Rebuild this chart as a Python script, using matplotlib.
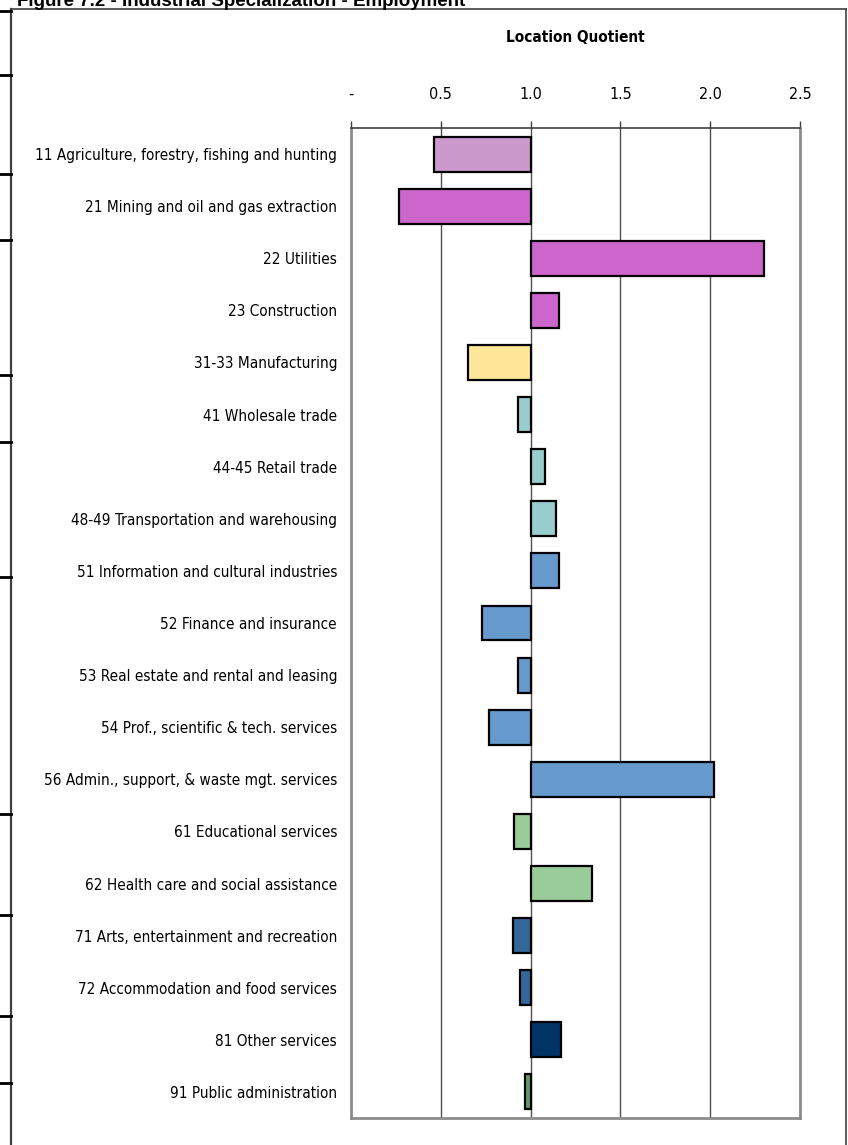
import matplotlib.pyplot as plt
from matplotlib.lines import Line2D

industries = [
    "11 Agriculture, forestry, fishing and hunting",
    "21 Mining and oil and gas extraction",
    "22 Utilities",
    "23 Construction",
    "31-33 Manufacturing",
    "41 Wholesale trade",
    "44-45 Retail trade",
    "48-49 Transportation and warehousing",
    "51 Information and cultural industries",
    "52 Finance and insurance",
    "53 Real estate and rental and leasing",
    "54 Prof., scientific & tech. services",
    "56 Admin., support, & waste mgt. services",
    "61 Educational services",
    "62 Health care and social assistance",
    "71 Arts, entertainment and recreation",
    "72 Accommodation and food services",
    "81 Other services",
    "91 Public administration",
]
location_quotient = [0.46, 0.27, 2.30, 1.16, 0.65, 0.93, 1.08, 1.14, 1.16, 0.73,
                     0.93, 0.77, 2.02, 0.91, 1.34, 0.90, 0.94, 1.17, 0.97]
bar_colors = ["#CC99CC", "#CC66CC", "#CC66CC", "#CC66CC", "#FFE699",
              "#99CCCC", "#99CCCC", "#99CCCC",
              "#6699CC", "#6699CC", "#6699CC", "#6699CC", "#6699CC",
              "#99CC99", "#99CC99", "#336699", "#336699", "#003366", "#669966"]
x_ticks = [0, 0.5, 1.0, 1.5, 2.0, 2.5]
x_tick_labels = ["-", "0.5", "1.0", "1.5", "2.0", "2.5"]
baseline = 1.0

narrow = dict(family="DejaVu Sans", stretch="condensed")
bold = ["Liberation Sans", "DejaVu Sans"]

W, H = 848, 1145
fig = plt.figure(figsize=(W / 100, H / 100), dpi=100)

def fx(px):
    return px / W

def fy(py):
    return 1 - py / H

# page frame and left margin marks
fig.add_artist(Line2D([fx(11), fx(11)], [fy(9), 0], color="#404040", lw=1.6))
fig.add_artist(Line2D([fx(11), fx(846)], [fy(9), fy(9)], color="#404040", lw=1.2))
fig.add_artist(Line2D([fx(846), fx(846)], [fy(9), 0], color="#404040", lw=1.2))
for py in [11, 75, 174, 240, 375, 442, 577, 814, 915, 1016, 1083]:
    fig.add_artist(Line2D([0, fx(11)], [fy(py), fy(py)], color="black", lw=2))

fig.text(fx(17), fy(2), "Figure 7.2 - Industrial Specialization - Employment",
         fontsize=13.5, fontweight="bold", family=bold, ha="left", va="center")

ax = fig.add_axes([351 / W, 1 - 1118 / H, (800 - 351) / W, (1118 - 128) / H])

y_pos = list(range(len(industries)))
widths = [v - baseline for v in location_quotient]
ax.barh(y_pos, widths, left=baseline, height=0.67, color=bar_colors,
        edgecolor="black", linewidth=1.6, zorder=3)

ax.set_xlim(0, 2.5)
ax.set_ylim(len(industries) - 0.5, -0.5)
ax.set_yticks(y_pos)
ax.set_yticklabels(industries, fontsize=11, **narrow)
ax.tick_params(axis="y", length=0, pad=10)

ax.xaxis.tick_top()
ax.set_xticks(x_ticks)
ax.set_xticklabels(x_tick_labels, fontsize=11.5, **narrow)
ax.tick_params(axis="x", direction="out", length=5, width=1, color="#404040", pad=14)

for v in x_ticks[1:-1]:
    ax.axvline(v, color="#505050", lw=1, zorder=1)

for side in ["left", "right", "bottom"]:
    ax.spines[side].set_color("#8C8C8C")
    ax.spines[side].set_linewidth(2)
ax.spines["top"].set_color("#404040")
ax.spines["top"].set_linewidth(1.2)

ax.set_title("Location Quotient", fontsize=11, fontweight="bold", pad=62, **narrow)

fig.savefig("out.png", dpi=100)
